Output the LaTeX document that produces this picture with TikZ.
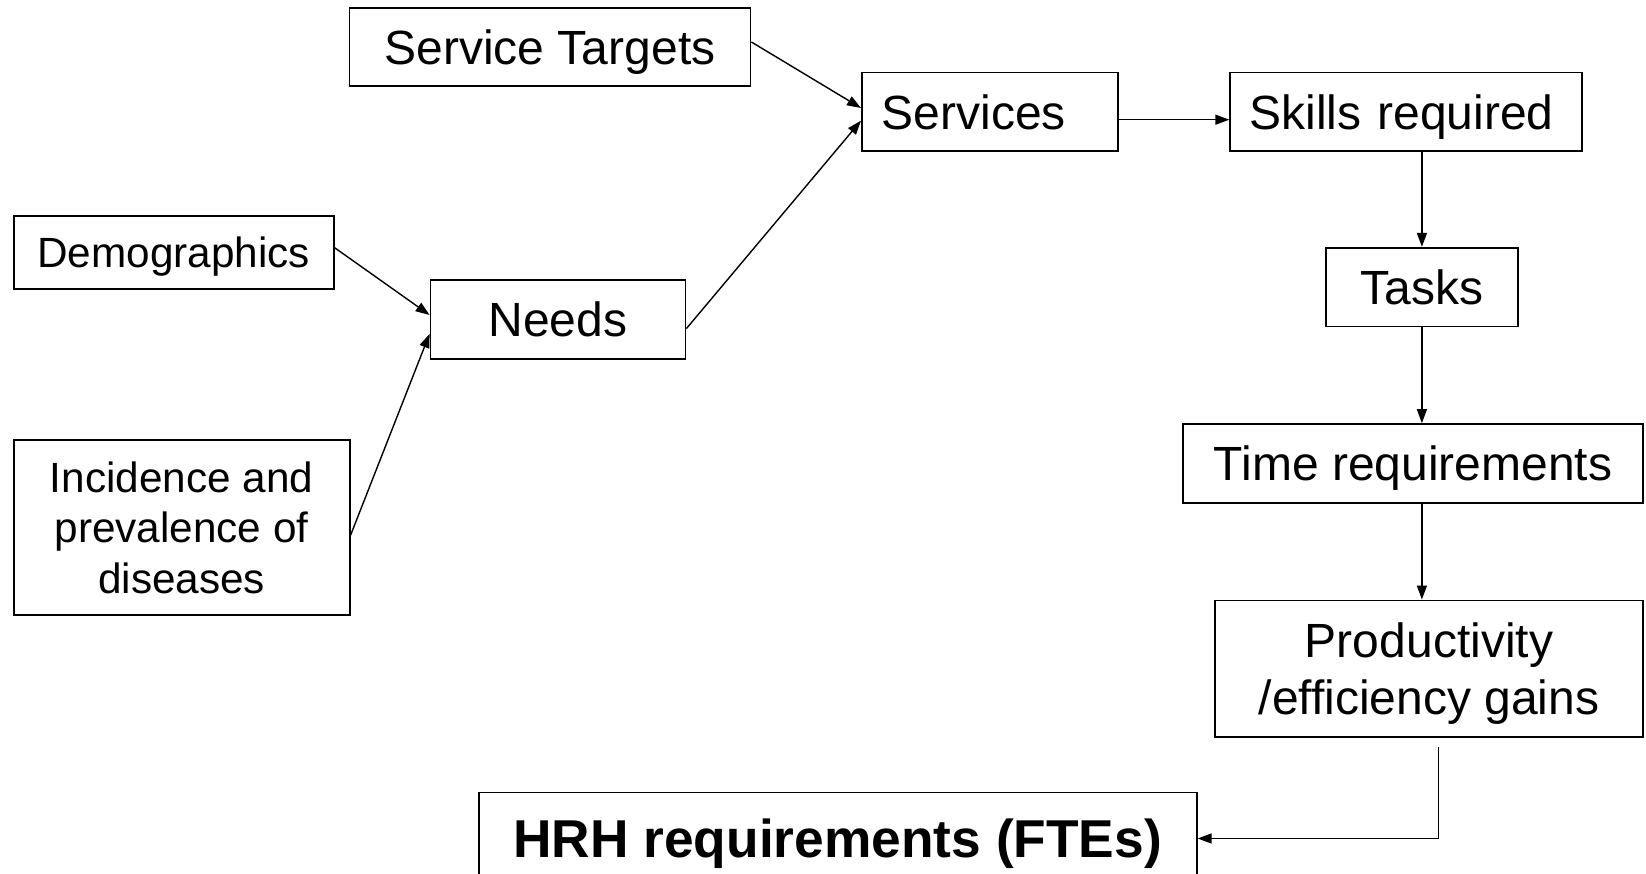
\documentclass[tikz,border=0pt]{standalone}
\usepackage{fontspec}
\setmainfont{Liberation Sans}
\usetikzlibrary{arrows.meta}
\newcommand\bodytxt{\fontsize{48}{57}\selectfont}
\newcommand\smalltxt{\fontsize{42.3}{50.4}\selectfont}
\newcommand\headtxt{\fontsize{53.3}{60}\selectfont\bfseries}
\begin{document}
\begin{tikzpicture}[x=1pt,y=-1pt,
  box/.style={draw, line width=1.8pt, inner sep=0pt, align=center, text depth=0pt, font=\bodytxt},
  smallbox/.style={box, font=\smalltxt},
  conn/.style={line width=1.4pt, -{Triangle[length=14pt,width=10pt]}}]
\useasboundingbox (0,0) rectangle (1646,874);
\clip (0,0) rectangle (1646,874);

% input boxes
\node[box, minimum width=401pt, minimum height=77.7pt] (targets) at (550,47.2) {Service Targets};
\node[smallbox, minimum width=320pt, minimum height=72.5pt] (demog) at (173.7,252.5) {Demographics};
\node[smallbox, minimum width=336pt, minimum height=175.3pt] (incid) at (181.6,527.5) {Incidence and\\prevalence of\\diseases};
\node[box, minimum width=255pt, minimum height=78.7pt] (needs) at (558,319.6) {Needs};
\node[box, minimum width=256pt, minimum height=78.7pt, text width=216pt, align=left] (srv) at (989.9,111.8) {Services};

% right-hand chain
\node[box, minimum width=351.6pt, minimum height=78.7pt, text width=313pt, align=left] (skills) at (1406,111.8) {Skills required};
\node[box, minimum width=192pt, minimum height=78.7pt] (tasks) at (1421.9,287.1) {Tasks};
\node[box, minimum width=460pt, minimum height=78.7pt] (time) at (1413,463.4) {Time requirements};
\node[box, minimum width=428pt, minimum height=136.5pt] (prod) at (1429,668.7) {Productivity\\/efficiency gains};

% result
\node[box, font=\headtxt, minimum width=718pt, minimum height=92pt] (hrh) at (837.7,838.5) {HRH requirements (FTEs)};

% connectors
\draw[conn] ([yshift=5.2pt]targets.east) -- ([yshift=3.8pt]srv.west);
\draw[conn] ([yshift=-9pt]needs.east) -- ([yshift=-8.9pt]srv.west);
\draw[conn] ([yshift=-7.9pt]srv.east) -- ([yshift=-7.9pt]skills.west);
\draw[conn] ([yshift=4.8pt]demog.east) -- ([yshift=4.6pt]needs.west);
\draw[conn] ([yshift=-7.9pt]incid.east) -- ([yshift=-14.2pt]needs.west);

\draw[conn] (tasks.north |- skills.south) -- (tasks.north);
\draw[conn] (tasks.south) -- (tasks.south |- time.north);
\draw[conn] (tasks.south |- time.south) -- (tasks.south |- prod.north);

\coordinate (pout) at (1438.2,747.4);
\draw[conn] (pout) |- (hrh.east);
\end{tikzpicture}
\end{document}
